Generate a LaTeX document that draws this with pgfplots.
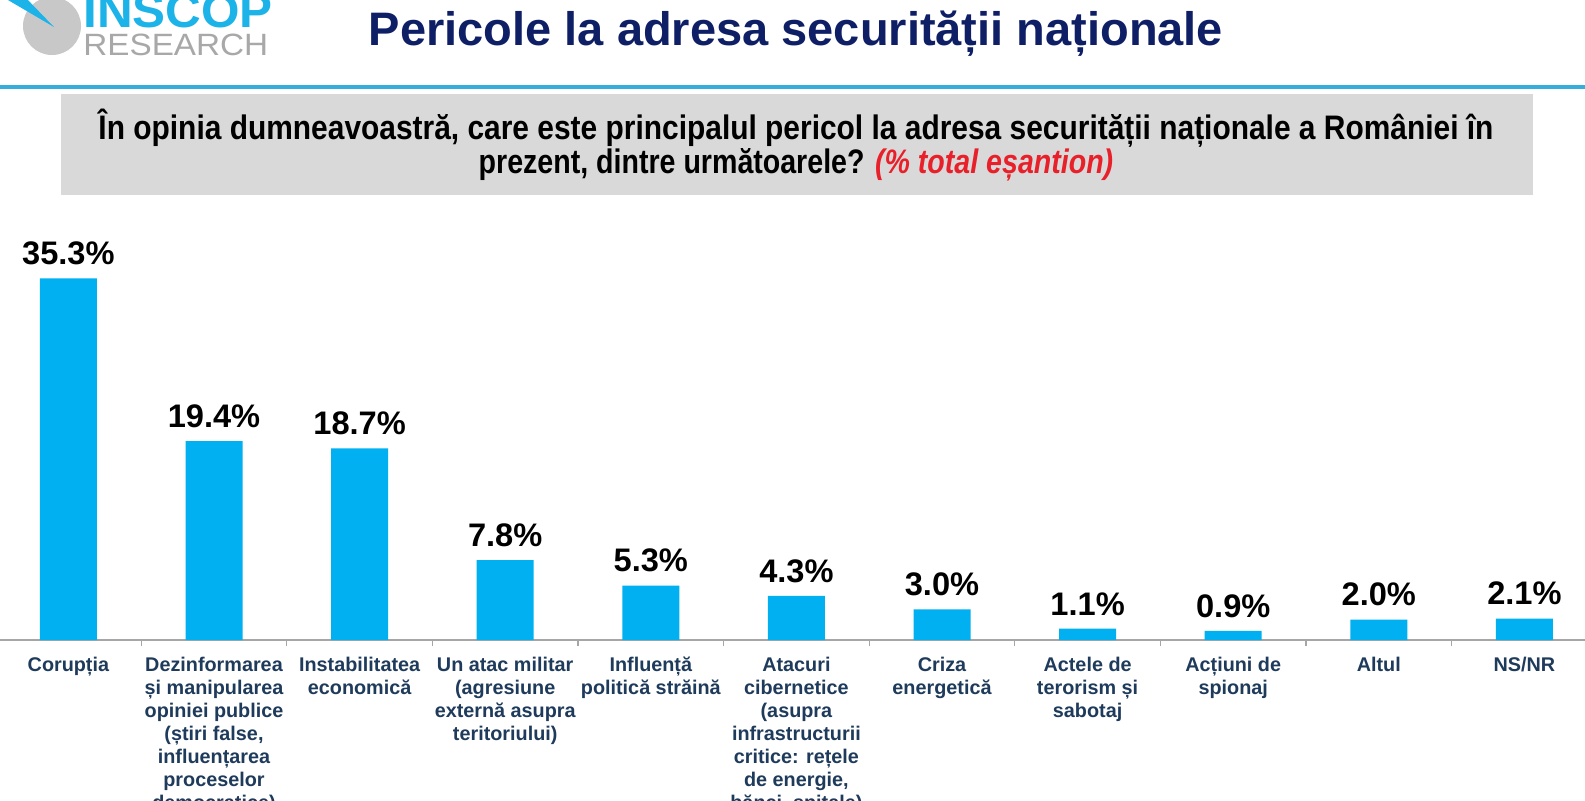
\documentclass[border=0pt]{standalone}
\usepackage{pgfplots}
\pgfplotsset{compat=1.18}
\usepackage{fontspec}
\setmainfont{Liberation Sans}
\newfontfamily\narrowfont[FakeStretch=0.88]{Liberation Sans}
\definecolor{barblue}{HTML}{00B0F0}
\definecolor{logoblue}{HTML}{1BB3E8}
\definecolor{logogray}{HTML}{C8C8C8}
\definecolor{logotext}{HTML}{A8A8A8}
\definecolor{titlecol}{HTML}{0F1F66}
\definecolor{linecol}{HTML}{35AEDB}
\definecolor{boxgray}{HTML}{D9D9D9}
\definecolor{redtxt}{HTML}{E8202A}
\definecolor{labcol}{HTML}{1F3B5C}
\definecolor{axgray}{HTML}{A6A6A6}
\begin{document}
\begin{tikzpicture}
\useasboundingbox (0,0) rectangle (792.5pt,-400pt);
\clip (0,0) rectangle (792.5pt,-400pt);
\fill[white] (0,0) rectangle (792.5pt,-400pt);
\begin{scope}[x=0.5pt,y=-0.5pt]
 \fill[logogray] (52,26) circle (29);
 \fill[logoblue] (8,0) -- (24,-4) -- (54,27) -- cycle;
 \node[anchor=base west, inner sep=0, text=logoblue, font=\fontsize{24}{24}\selectfont\bfseries] at (83,27) {\scalebox{1.03}[1]{INSCOP}};
 \node[anchor=base west, inner sep=0, text=logotext, font=\fontsize{15.4}{16}\selectfont] at (83,55) {\scalebox{1.08}[1]{RESEARCH}};
 \node[anchor=base, inner sep=0, text=titlecol, font=\fontsize{23.5}{24}\selectfont\bfseries] at (796,45.5) {Pericole la adresa securității naționale};
 \draw[line width=2pt, linecol] (0,87) -- (1585,87);
 \fill[boxgray] (60.6,94) rectangle (1533,195);
 \node[anchor=base, inner sep=0, font=\fontsize{17}{18}\narrowfont\bfseries] at (796,139.5) {În opinia dumneavoastră, care este principalul pericol la adresa securității naționale a României în};
 \node[anchor=base, inner sep=0, font=\fontsize{17}{18}\narrowfont\bfseries] at (796,173) {\scalebox{0.955}[1]{prezent, dintre următoarele? \textcolor{redtxt}{\itshape (\% total eșantion)}}};
\end{scope}
\begin{axis}[
 at={(0pt,-320pt)}, anchor=south west,
 scale only axis, width=792.5pt, height=204.92pt,
 xmin=-0.4698, xmax=10.4162, ymin=0, ymax=40,
 enlargelimits=false,
 axis x line*=bottom, axis y line=none,
 axis line style={draw=axgray, line width=0.6pt, -},
 ybar, bar width=28.5pt,
 xtick={0,...,10},
 minor xtick={0.5,1.5,...,9.5},
 major tick length=0pt, minor tick length=3pt,
 tick align=outside,
 minor tick style={draw=axgray, line width=0.6pt},
 xticklabels={{Corupția},
  {Dezinformarea\\și manipularea\\opiniei publice\\(știri false,\\influențarea\\proceselor\\democratice)},
  {Instabilitatea\\economică},
  {Un atac militar\\(agresiune\\externă asupra\\teritoriului)},
  {Influență\\politică străină},
  {Atacuri\\cibernetice\\(asupra\\infrastructurii\\critice: rețele\\de energie,\\bănci, spitale)},
  {Criza\\energetică},
  {Actele de\\terorism și\\sabotaj},
  {Acțiuni de\\spionaj},
  {Altul},
  {NS/NR}},
 xticklabel style={font=\fontsize{9.9}{11.5}\selectfont\bfseries, text=labcol, align=center, inner sep=0pt, anchor=north, yshift=-8.5pt},
 nodes near coords={\pgfmathprintnumber[fixed,fixed zerofill,precision=1,assume math mode=true]{\pgfplotspointmeta}\%},
 nodes near coords style={font=\fontsize{16.3}{18}\selectfont\bfseries, text=black, anchor=south, inner sep=0pt, yshift=6.5pt},
]
\addplot[fill=barblue, draw=none] coordinates {(0,35.3) (1,19.4) (2,18.7) (3,7.8) (4,5.3) (5,4.3) (6,3.0) (7,1.1) (8,0.9) (9,2.0) (10,2.1)};
\end{axis}
\end{tikzpicture}
\end{document}
